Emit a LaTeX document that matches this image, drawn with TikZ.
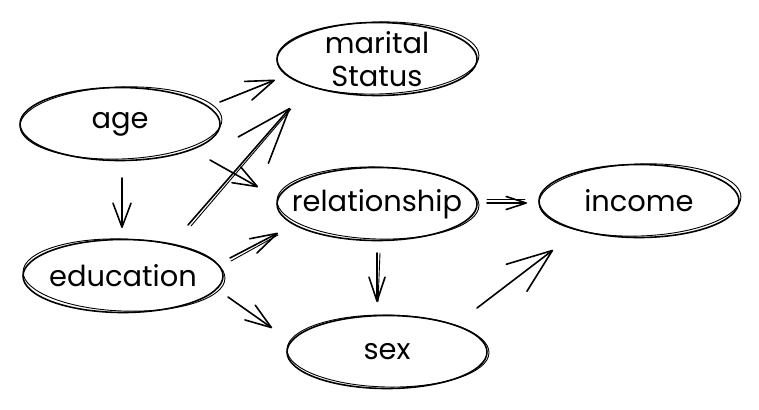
\documentclass[tikz,border=0pt]{standalone}
\usepackage{fontspec}
\setmainfont{Poppins}
\usetikzlibrary{arrows.meta,shapes.geometric}
\begin{document}
\begin{tikzpicture}[x=1bp,y=-1bp,line width=1.6bp,line cap=round,line join=round,
  ell/.style={ellipse,draw,minimum width=200bp,minimum height=73bp,inner sep=0pt,
    label={[font=\fontsize{29}{33}\selectfont,align=center]center:#1}},
  sketch/.style={line width=0.9bp},
  arr/.style 2 args={-{Straight Barb[length=#1,width=#2,round]}}]
\useasboundingbox (0,0) rectangle (759,409);
% nodes
\node[ell={age}] (age) at (120,124) {};
\node[ell={education}] (edu) at (123,276) {};
\node[ell={marital\\Status}] (ms)  at (377,59)  {};
\node[ell={relationship}] (rel) at (377,204) {};
\node[ell={income}] (inc) at (639,201) {};
\node[ell={sex}] (sex) at (387,352) {};
% second sketch strokes
\foreach \n/\a in {age/2,edu/-2,ms/1.5,rel/-1.5,inc/2,sex/-1}{
  \draw[sketch,rotate around={\a:(\n.center)}] ([shift={(1,-1)}]\n.center) ellipse [x radius=101bp,y radius=36bp];
}
% connectors
\draw[arr={28bp}{20bp}] ([shift={(100,-22)}]age.center) -- ([shift={(-102,21)}]ms.center);
\draw[arr={24bp}{18bp}] ([shift={(90,36)}]age.center) -- ([shift={(-119,-17)}]rel.center);
\draw[arr={55bp}{40bp}] ([shift={(65,-51)}]edu.center) -- ([shift={(-87,49)}]ms.center);
\draw[sketch] ([shift={(68,-50)}]edu.center) -- ([shift={(-86,50)}]ms.center);
\draw[arr={24bp}{18bp}] ([shift={(2,54)}]age.center) -- ([shift={(-1,-48)}]edu.center);
\draw[arr={27bp}{16bp}] ([shift={(107,-18)}]edu.center) -- ([shift={(-99,29)}]rel.center);
\draw[sketch] ([shift={(108,-15)}]edu.center) -- ([shift={(-99,31)}]rel.center);
\draw[arr={26bp}{18bp}] ([shift={(105,21)}]edu.center) -- ([shift={(-115,-24)}]sex.center);
\draw[arr={24bp}{16bp}] ([shift={(0,49)}]rel.center) -- ([shift={(-10,-50)}]sex.center);
\draw[sketch] ([shift={(3,49)}]rel.center) -- ([shift={(-9,-50)}]sex.center);
\draw[arr={20bp}{13bp}] ([shift={(110,-1)}]rel.center) -- ([shift={(-112,2)}]inc.center);
\draw[sketch] ([shift={(110,-5)}]rel.center) -- ([shift={(-114,-2)}]inc.center);
\draw[arr={45bp}{34bp}] ([shift={(90,-44)}]sex.center) -- ([shift={(-86,49)}]inc.center);
\end{tikzpicture}
\end{document}
